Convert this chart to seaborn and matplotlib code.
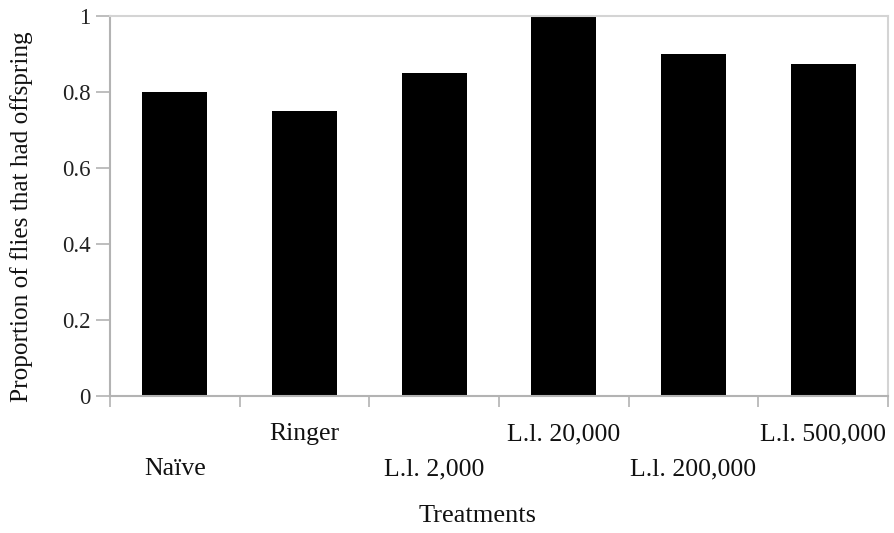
import matplotlib
matplotlib.use("Agg")
import matplotlib.pyplot as plt
import seaborn as sns
import pandas as pd

categories = ["Naïve", "Ringer", "L.l. 2,000", "L.l. 20,000", "L.l. 200,000", "L.l. 500,000"]
values = [0.80, 0.75, 0.85, 1.00, 0.90, 0.875]
yticks = [0, 0.2, 0.4, 0.6, 0.8, 1.0]
ytick_labels = ["0", "0.2", "0.4", "0.6", "0.8", "1"]

sns.set_style("white")
plt.rcParams["font.family"] = ["Liberation Serif", "DejaVu Serif"]

df = pd.DataFrame({"Treatment": categories, "Proportion": values})

fig = plt.figure(figsize=(8.94, 5.33), dpi=100)
ax = fig.add_axes([110 / 894, 1 - 396 / 533, (888 - 110) / 894, (396 - 16) / 533])

sns.barplot(data=df, x="Treatment", y="Proportion", color="black",
            saturation=1, width=0.5, ax=ax, edgecolor="black", linewidth=0)

ax.set_xlim(-0.5, len(categories) - 0.5)
ax.set_ylim(0, 1.0)
ax.set_yticks(yticks)
ax.set_yticklabels(ytick_labels, fontsize=16.5, color="#222222")

# ticks at category boundaries
ax.set_xticks([i - 0.5 for i in range(len(categories) + 1)])
ax.set_xticklabels([])
ax.tick_params(axis="x", direction="out", length=8, width=1.2, color="#b3b3b3", bottom=True)
ax.tick_params(axis="y", direction="out", length=10, width=1.2, color="#b3b3b3", left=True, pad=4)

# staggered category labels (baseline positions)
for i, lab in enumerate(categories):
    y_off = -0.208 if i % 2 == 0 else -0.116
    ax.text(i, y_off, lab, ha="center", va="baseline",
            fontsize=18.5, color="#111111",
            transform=ax.get_xaxis_transform())

for s in ["left", "bottom"]:
    ax.spines[s].set_color("#b3b3b3")
    ax.spines[s].set_linewidth(1.5)
for s in ["top", "right"]:
    ax.spines[s].set_color("#d4d4d4")
    ax.spines[s].set_linewidth(1.5)
    ax.spines[s].set_visible(True)

ax.set_xlabel("")
ax.set_ylabel("")
fig.text(22 / 894, 1 - 217 / 533, "Proportion of flies that had offspring",
         rotation=90, ha="center", va="center", fontsize=18.2, color="#111111")
fig.text(478 / 894, 1 - 516 / 533, "Treatments", ha="center", va="center",
         fontsize=19, color="#111111")

fig.savefig("out.png", dpi=100)
